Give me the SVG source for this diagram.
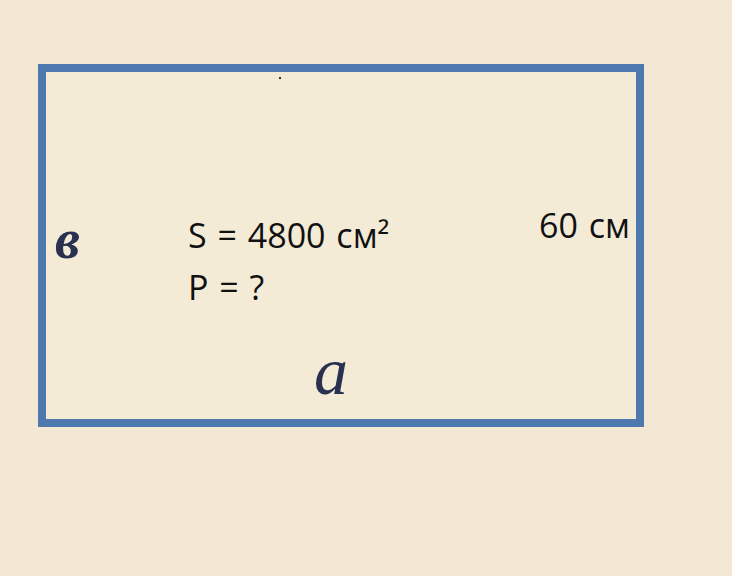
<svg xmlns="http://www.w3.org/2000/svg" width="732" height="576" viewBox="0 0 732 576">
<style>
.lbl{font-family:"Open Sans","Noto Sans","Liberation Sans",sans-serif;font-size:34px;word-spacing:2px;fill:#111}
.var{font-family:"Liberation Serif","DejaVu Serif",serif;font-style:italic;fill:#2a3050}
</style>
<rect width="732" height="576" fill="#f2e8d3"/>
<g id="rectangle">
<rect x="42" y="68" width="598" height="355" fill="#f4ebd7" stroke="#4d79ae" stroke-width="8"/>
</g>
<rect x="279" y="77" width="2" height="2" fill="#333"/>
<g id="labels">
<text class="var" x="55" y="258" font-size="56" font-weight="bold">в</text>
<text class="var" x="314" y="394" font-size="68">a</text>
<text class="lbl" x="188" y="248">S = 4800 см²</text>
<text class="lbl" x="188" y="300">P = ?</text>
<text class="lbl" x="539" y="238">60 см</text>
</g>
</svg>
